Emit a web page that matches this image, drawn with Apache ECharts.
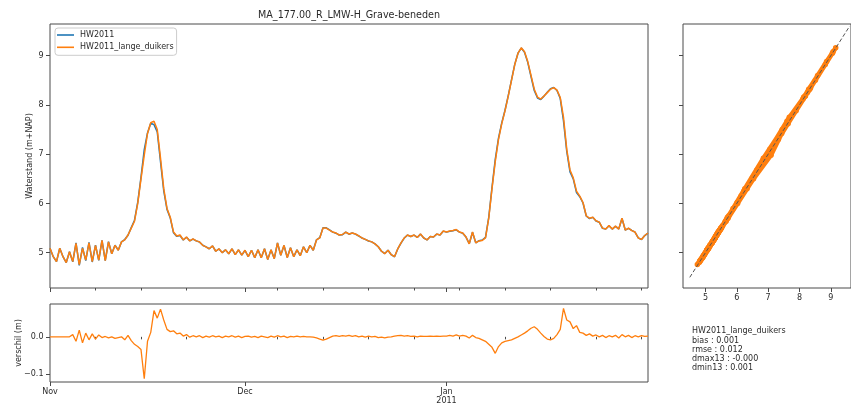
<!DOCTYPE html>
<html>
<head>
<meta charset="utf-8">
<script src="https://cdn.jsdelivr.net/npm/echarts@6/dist/echarts.min.js"></script>
<style>
  html, body { margin: 0; padding: 0; background: #ffffff; }
  #chart { width: 851px; height: 407px; }
</style>
</head>
<body>
<div id="chart"></div>
<script>
// Water levels at MA_177.00_R, one sample every half day from 1 Nov 2010 00:00
const STEP_DAYS = 0.5;

// Water level, run HW2011_lange_duikers (m+NAP)
const levelLangeDuikers = [
  5.09, 4.92, 4.82, 5.09, 4.92, 4.80, 5.02, 4.82, 5.19, 4.76,
  5.09, 4.85, 5.20, 4.82, 5.15, 4.85, 5.25, 4.84, 5.22, 4.98,
  5.15, 5.05, 5.22, 5.26, 5.36, 5.50, 5.64, 6.00, 6.50, 6.98,
  7.42, 7.64, 7.67, 7.50, 6.92, 6.30, 5.90, 5.72, 5.42, 5.34,
  5.36, 5.26, 5.32, 5.24, 5.28, 5.24, 5.22, 5.15, 5.12, 5.08,
  5.14, 5.03, 5.08, 5.00, 5.06, 4.98, 5.08, 4.96, 5.06, 4.95,
  5.05, 4.92, 5.05, 4.90, 5.06, 4.90, 5.08, 4.86, 5.06, 4.88,
  5.20, 4.95, 5.15, 4.90, 5.10, 4.92, 5.06, 4.94, 5.12, 5.00,
  5.15, 5.05, 5.26, 5.30, 5.50, 5.50, 5.46, 5.42, 5.40, 5.36,
  5.37, 5.42, 5.38, 5.40, 5.38, 5.34, 5.30, 5.27, 5.24, 5.22,
  5.18, 5.12, 5.03, 4.98, 5.05, 4.96, 4.92, 5.08, 5.20, 5.30,
  5.36, 5.33, 5.36, 5.31, 5.38, 5.30, 5.26, 5.33, 5.32, 5.38,
  5.36, 5.44, 5.42, 5.44, 5.45, 5.47, 5.42, 5.40, 5.32, 5.18,
  5.42, 5.20, 5.24, 5.25, 5.30, 5.70, 6.30, 6.85, 7.30, 7.62,
  7.88, 8.18, 8.50, 8.82, 9.05, 9.16, 9.08, 8.88, 8.60, 8.32,
  8.16, 8.12, 8.18, 8.25, 8.32, 8.35, 8.30, 8.15, 7.75, 7.10,
  6.68, 6.52, 6.25, 6.15, 6.02, 5.75, 5.70, 5.72, 5.65, 5.62,
  5.50, 5.48, 5.55, 5.48, 5.54, 5.48, 5.70, 5.46, 5.50, 5.45,
  5.42, 5.30, 5.27, 5.35, 5.40
];

// Difference HW2011_lange_duikers minus HW2011 (m)
const verschil = [
  0.000, 0.000, 0.000, 0.000, 0.000, 0.000, 0.000, 0.006, -0.012, 0.018,
  -0.016, 0.010, -0.008, 0.008, -0.006, 0.005, -0.002, 0.001, -0.003, 0.000,
  -0.004, -0.002, 0.000, -0.008, 0.004, -0.010, -0.020, -0.026, -0.034, -0.112,
  -0.012, 0.012, 0.070, 0.050, 0.074, 0.045, 0.020, 0.014, 0.016, 0.008,
  0.010, 0.002, 0.006, -0.001, 0.003, 0.000, 0.003, -0.002, 0.002, -0.001,
  0.003, 0.000, 0.002, -0.002, 0.002, 0.000, 0.003, -0.001, 0.002, -0.002,
  0.001, 0.002, -0.001, 0.001, -0.002, 0.002, 0.000, -0.002, 0.002, -0.001,
  0.003, 0.000, 0.002, -0.002, 0.001, 0.000, 0.002, 0.000, 0.001, 0.000,
  0.000, -0.001, -0.003, -0.006, -0.009, -0.006, -0.002, 0.002, 0.003, 0.001,
  0.003, 0.002, 0.004, 0.001, 0.003, 0.000, 0.002, -0.001, 0.002, 0.000,
  0.001, -0.002, -0.001, -0.003, -0.001, 0.000, 0.002, 0.003, 0.004, 0.002,
  0.003, 0.001, 0.002, 0.000, 0.002, 0.001, 0.001, 0.002, 0.001, 0.002,
  0.001, 0.002, 0.002, 0.004, 0.002, 0.005, 0.002, 0.004, 0.002, -0.003,
  0.004, -0.002, -0.004, -0.008, -0.012, -0.020, -0.028, -0.044, -0.026, -0.016,
  -0.012, -0.010, -0.008, -0.004, 0.000, 0.005, 0.010, 0.016, 0.023, 0.027,
  0.020, 0.010, 0.001, -0.006, -0.008, -0.004, 0.006, 0.020, 0.076, 0.045,
  0.040, 0.022, 0.030, 0.012, 0.010, 0.004, 0.008, 0.002, 0.005, 0.000,
  0.004, -0.002, 0.003, 0.000, 0.004, -0.003, 0.006, 0.000, 0.004, -0.002,
  0.003, 0.000, 0.003, 0.001, 0.002
];

// Axis ticks (days counted from 1 Nov 2010)
const weekTickDays = [7, 14, 21, 35, 42, 49, 56, 63, 70, 77, 84, 91];
const monthTickDays = [0, 30, 61];
const monthTickLabels = ['Nov', 'Dec', 'Jan\n2011'];
const levelTicks = [5, 6, 7, 8, 9];
const verschilTicks = [-0.1, 0.0];
const scatterTicks = [5, 6, 7, 8, 9];
const oneToOne = [4.5, 9.6];

const chartTitle = 'MA_177.00_R_LMW-H_Grave-beneden';
const statsLines = [
  'HW2011_lange_duikers',
  'bias : 0.001',
  'rmse : 0.012',
  'dmax13 : -0.000',
  'dmin13 : 0.001'
];

const DAY_MAX = 92;
const LEVEL_MIN = 4.284, LEVEL_MAX = 9.643;
const DIFF_MIN = -0.1206, DIFF_MAX = 0.0877;

const FONT = 'DejaVu Sans';
const TEXT = '#2b2b2b';
const FRAME = '#4a4a4a';
const BLUE = '#1f77b4';
const ORANGE = '#ff7f0e';

const hw2011 = levelLangeDuikers.map((v, i) => v - verschil[i]);
const t = levelLangeDuikers.map((_, i) => i * STEP_DAYS);

const lineLange = t.map((d, i) => [d, levelLangeDuikers[i]]);
const lineHW = t.map((d, i) => [d, hw2011[i]]);
const lineDiff = t.map((d, i) => [d, verschil[i]]);
const pairs = hw2011.map((v, i) => [v, levelLangeDuikers[i]]);

const labelStyle = { color: TEXT, fontFamily: FONT, fontSize: 8 };

function timeAxis(gridIndex, ticks, len, labels) {
  return {
    type: 'value', gridIndex, position: 'bottom', offset: 0, min: 0, max: DAY_MAX,
    axisLine: { show: false },
    splitLine: { show: false },
    axisTick: { show: true, customValues: ticks, length: len, lineStyle: { color: FRAME, width: 1 } },
    axisLabel: labels ? {
      show: true, customValues: monthTickDays, margin: 5, lineHeight: 9.5,
      formatter: v => monthTickLabels[monthTickDays.indexOf(v)] || '',
      ...labelStyle
    } : { show: false }
  };
}

const option = {
  animation: false,
  backgroundColor: '#ffffff',
  grid: [
    { left: 50, top: 24, width: 598, height: 264, show: true, borderColor: FRAME, borderWidth: 1, backgroundColor: 'transparent' },
    { left: 50, top: 304, width: 598, height: 78, show: true, borderColor: FRAME, borderWidth: 1, backgroundColor: 'transparent' },
    { left: 683, top: 24, width: 175, height: 264, show: true, borderColor: FRAME, borderWidth: 1, backgroundColor: 'transparent' }
  ],
  xAxis: [
    timeAxis(0, weekTickDays, 2.5, false),
    timeAxis(0, monthTickDays, 4, false),
    timeAxis(1, weekTickDays, 2.5, false),
    timeAxis(1, monthTickDays, 4, true),
    {
      type: 'value', gridIndex: 2, position: 'bottom', min: LEVEL_MIN, max: LEVEL_MAX,
      axisLine: { show: false }, splitLine: { show: false },
      axisTick: { show: true, customValues: scatterTicks, length: 4, lineStyle: { color: FRAME } },
      axisLabel: { show: true, customValues: scatterTicks, margin: 6, formatter: v => String(v), ...labelStyle }
    }
  ],
  yAxis: [
    {
      type: 'value', gridIndex: 0, position: 'left', min: LEVEL_MIN, max: LEVEL_MAX,
      axisLine: { show: false }, splitLine: { show: false },
      axisTick: { show: true, customValues: levelTicks, length: 4, lineStyle: { color: FRAME } },
      axisLabel: { show: true, customValues: levelTicks, margin: 6.5, formatter: v => String(v), ...labelStyle },
      name: 'Waterstand (m+NAP)', nameLocation: 'middle', nameGap: 16, nameMoveOverlap: false,
      nameTextStyle: { ...labelStyle }
    },
    {
      type: 'value', gridIndex: 1, position: 'left', min: DIFF_MIN, max: DIFF_MAX,
      axisLine: { show: false }, splitLine: { show: false },
      axisTick: { show: true, customValues: verschilTicks, length: 4, lineStyle: { color: FRAME } },
      axisLabel: {
        show: true, customValues: verschilTicks, margin: 6.5,
        formatter: v => (v < 0 ? '\u2212' : '') + Math.abs(v).toFixed(1),
        ...labelStyle
      },
      name: 'verschil (m)', nameLocation: 'middle', nameGap: 27, nameMoveOverlap: false,
      nameTextStyle: { ...labelStyle }
    },
    {
      type: 'value', gridIndex: 2, position: 'left', min: LEVEL_MIN, max: LEVEL_MAX,
      axisLine: { show: false }, splitLine: { show: false },
      axisTick: { show: true, customValues: levelTicks, length: 4, lineStyle: { color: FRAME } },
      axisLabel: { show: false }
    }
  ],
  legend: {
    data: ['HW2011', 'HW2011_lange_duikers'],
    orient: 'vertical', left: 55, top: 28,
    icon: 'rect', itemWidth: 17, itemHeight: 1.6, itemGap: 2.3,
    padding: [2, 3, 3, 2],
    borderColor: '#cccccc', borderWidth: 1, borderRadius: 3,
    backgroundColor: 'rgba(255,255,255,0.8)',
    selectedMode: false,
    textStyle: { ...labelStyle, lineHeight: 10, padding: [0, 0, 0, 1] }
  },
  graphic: [
    {
      type: 'text', x: 349, y: 15.5,
      style: { text: chartTitle, fill: TEXT, font: '9.6px "' + FONT + '"', align: 'center', verticalAlign: 'middle' }
    },
    {
      type: 'text', x: 692, y: 326.5,
      style: { text: statsLines.join('\n'), fill: TEXT, font: '8px "' + FONT + '"', lineHeight: 9.3, align: 'left', verticalAlign: 'top' }
    }
  ],
  series: [
    {
      name: 'HW2011', type: 'line', xAxisIndex: 0, yAxisIndex: 0,
      data: lineHW, showSymbol: false, symbol: 'none',
      lineStyle: { color: BLUE, width: 1.5 }, itemStyle: { color: BLUE }, z: 2
    },
    {
      name: 'HW2011_lange_duikers', type: 'line', xAxisIndex: 0, yAxisIndex: 0,
      data: lineLange, showSymbol: false, symbol: 'none',
      lineStyle: { color: ORANGE, width: 1.5 }, itemStyle: { color: ORANGE }, z: 3
    },
    {
      name: 'verschil', type: 'line', xAxisIndex: 3, yAxisIndex: 1,
      data: lineDiff, showSymbol: false, symbol: 'none',
      lineStyle: { color: ORANGE, width: 1.3 }, itemStyle: { color: ORANGE }
    },
    {
      name: 'spreiding', type: 'line', xAxisIndex: 4, yAxisIndex: 2,
      data: pairs, showSymbol: false, symbol: 'none',
      lineStyle: { color: ORANGE, width: 4.5 }, z: 2
    },
    {
      name: 'punten', type: 'scatter', xAxisIndex: 4, yAxisIndex: 2,
      data: pairs, symbolSize: 5.5, itemStyle: { color: ORANGE, opacity: 1 }, z: 3
    },
    {
      name: '1:1', type: 'line', xAxisIndex: 4, yAxisIndex: 2,
      data: oneToOne.map(v => [v, v]), showSymbol: false, symbol: 'none',
      lineStyle: { color: '#555555', width: 1, type: [4, 2.2] }, z: 4
    }
  ]
};

const chart = echarts.init(document.getElementById('chart'), null, { renderer: 'canvas' });
chart.setOption(option);
</script>
</body>
</html>
